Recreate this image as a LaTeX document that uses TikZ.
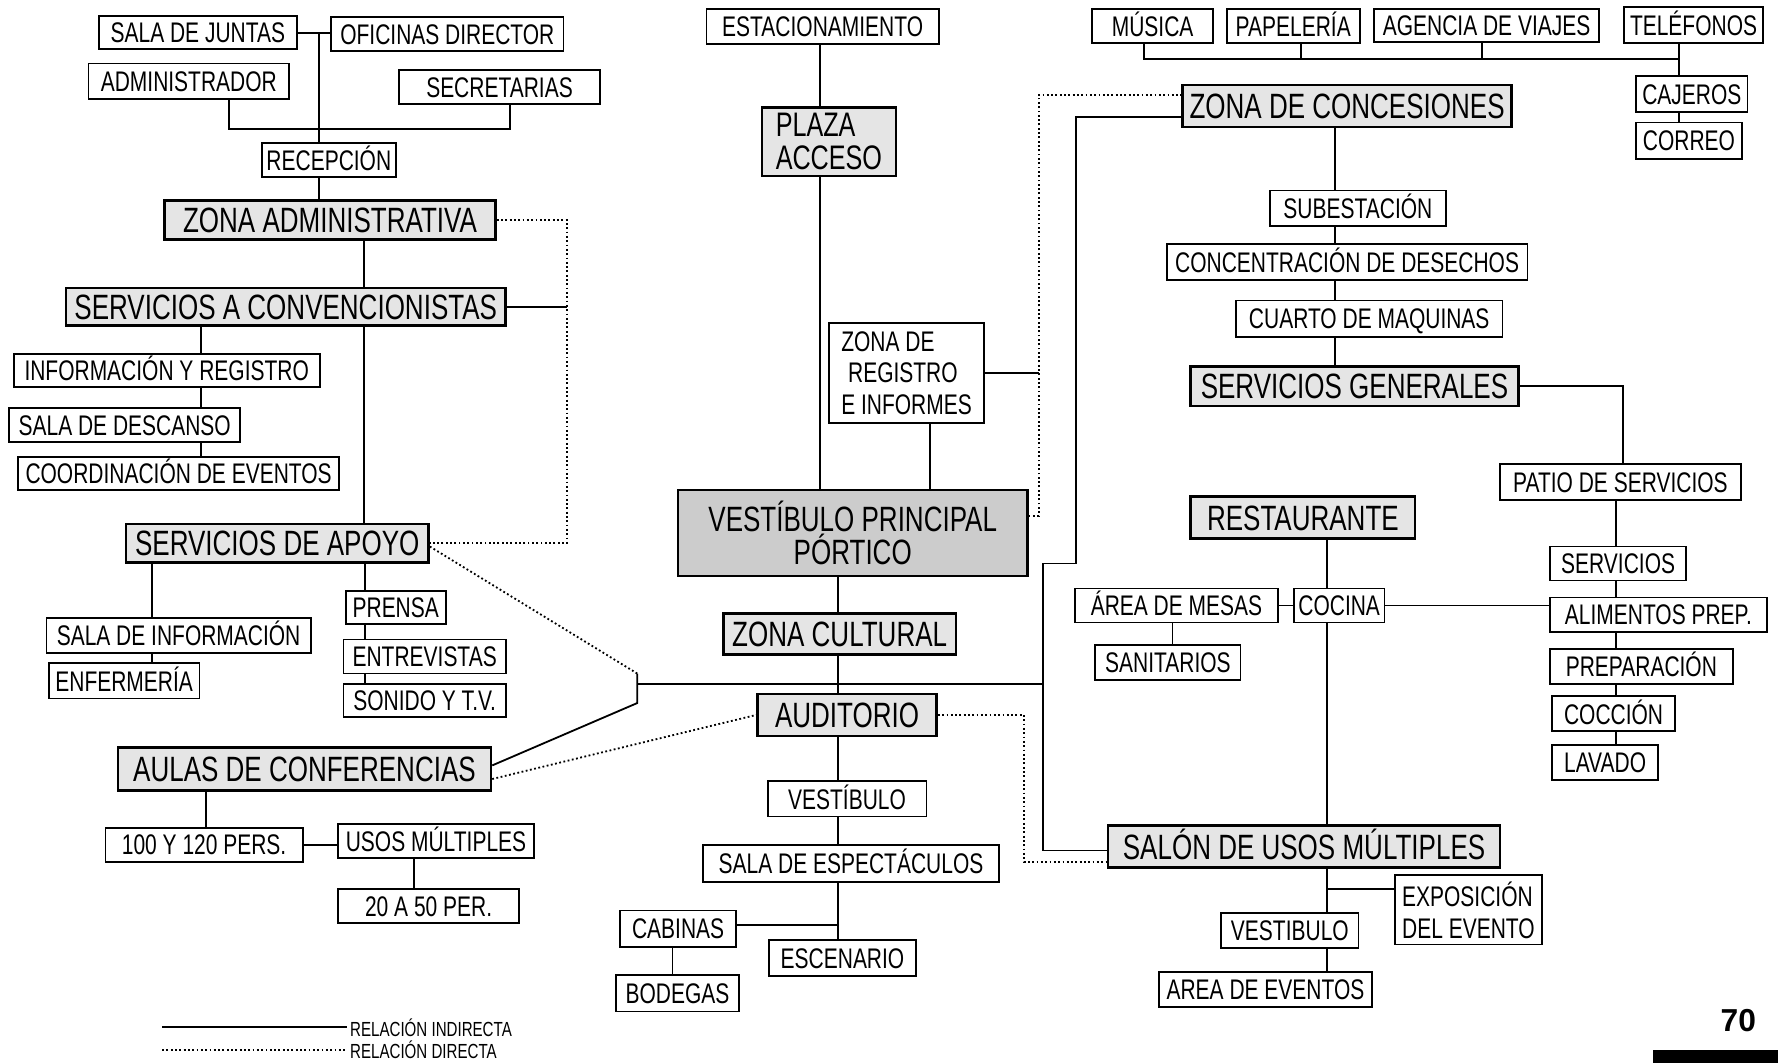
\documentclass[tikz,border=0pt]{standalone}
\usepackage{fontspec}
\setmainfont{Liberation Sans}[FakeStretch=0.74]
\newfontfamily\pagenumfont{Liberation Sans}
\usetikzlibrary{calc}
\newcommand\zbox[7][]{\node[box,#1,minimum width={(#5-#3)*0.5pt},minimum height={(#6-#4)*0.5pt}] (#2) at ({(#3+#5)/2},{(#4+#6)/2}) {#7};}
\begin{document}
\begin{tikzpicture}[x=0.5pt,y=-0.5pt,line width=0.8pt,
  box/.style={draw,line width=0.8pt,inner xsep=2pt,inner ysep=0pt,text height=9pt,text depth=0pt,font=\fontsize{12.5}{14}\selectfont},
  shade/.style={fill=black!10,line width=1.1pt,text height=11.2pt,font=\fontsize{15.5}{13.5}\selectfont},
  heavy/.style={fill=black!20},
  multi/.style={text height={},text depth={}},
  dotline/.style={line width=0.8pt,dash pattern=on 0.8pt off 1.1pt},
  legend/.style={inner sep=1pt,font=\fontsize{9}{9}\selectfont}]
\useasboundingbox (0,0) rectangle (1568,937);
% ---------- left column ----------
\zbox{sala}{87}{14}{262}{43}{SALA DE JUNTAS}
\zbox{ofic}{292}{15}{497}{45}{OFICINAS DIRECTOR}
\zbox{admin}{78}{56}{255}{87}{ADMINISTRADOR}
\zbox{secr}{352}{62}{529}{92}{SECRETARIAS}
\zbox{recep}{231}{126}{349}{156}{RECEPCIÓN}
\zbox[shade]{zadm}{145}{177}{437}{211}{ZONA ADMINISTRATIVA}
\zbox[shade]{sconv}{58}{254}{446}{287}{SERVICIOS A CONVENCIONISTAS}
\zbox{info}{12}{312}{282}{341}{INFORMACIÓN Y REGISTRO}
\zbox{desc}{8}{360}{212}{390}{SALA DE DESCANSO}
\zbox{coord}{16}{403}{299}{432}{COORDINACIÓN DE EVENTOS}
\zbox[shade]{apoyo}{111}{462}{378}{496}{SERVICIOS DE APOYO}
\zbox{sinfo}{41}{545}{274}{576}{SALA DE INFORMACIÓN}
\zbox{enf}{43}{585}{176}{616}{ENFERMERÍA}
\zbox{prensa}{305}{521}{393}{550}{PRENSA}
\zbox{entrev}{303}{564}{446}{594}{ENTREVISTAS}
\zbox{sonido}{303}{603}{446}{632}{SONIDO Y T.V.}
\zbox[shade]{aulas}{104}{659}{433}{697}{AULAS DE CONFERENCIAS}
\zbox{p100}{93}{730}{267}{760}{100 Y 120 PERS.}
\zbox{usos}{298}{727}{471}{757}{USOS MÚLTIPLES}
\zbox{p20}{298}{784}{458}{814}{20 A 50 PER.}
% ---------- centre column ----------
\zbox{est}{623}{8}{828}{39}{ESTACIONAMIENTO}
\zbox[shade,multi,align=left,font=\fontsize{15}{14.5}\selectfont]{plaza}{672}{95}{790}{155}{PLAZA\\ACCESO}
\zbox[multi,align=left]{zreg}{731}{285}{868}{373}{ZONA DE\\\hspace*{3pt}REGISTRO\\E INFORMES}
\zbox[shade,heavy,multi,align=center]{vestp}{598}{432}{906}{508}{VESTÍBULO PRINCIPAL\\PÓRTICO}
\zbox[shade]{zcul}{638}{541}{843}{577}{ZONA CULTURAL}
\zbox[shade]{aud}{668}{612}{826}{649}{AUDITORIO}
\zbox{vest}{677}{689}{817}{720}{VESTÍBULO}
\zbox{sesp}{620}{745}{881}{778}{SALA DE ESPECTÁCULOS}
\zbox{cab}{547}{803}{649}{835}{CABINAS}
\zbox{esc}{678}{829}{808}{861}{ESCENARIO}
\zbox{bod}{543}{860}{652}{892}{BODEGAS}
% ---------- right column ----------
\zbox{mus}{963}{8}{1070}{38}{MÚSICA}
\zbox{pap}{1082}{8}{1199}{38}{PAPELERÍA}
\zbox{age}{1212}{8}{1410}{37}{AGENCIA DE VIAJES}
\zbox{tel}{1432}{6}{1555}{38}{TELÉFONOS}
\zbox{caj}{1443}{67}{1541}{99}{CAJEROS}
\zbox{cor}{1443}{108}{1536}{140}{CORREO}
\zbox[shade]{zcon}{1043}{75}{1333}{112}{ZONA DE CONCESIONES}
\zbox{sub}{1120}{168}{1275}{199}{SUBESTACIÓN}
\zbox{conc}{1029}{215}{1347}{247}{CONCENTRACIÓN DE DESECHOS}
\zbox{cuar}{1090}{265}{1325}{297}{CUARTO DE MAQUINAS}
\zbox[shade]{sgen}{1050}{323}{1339}{358}{SERVICIOS GENERALES}
\zbox{patio}{1323}{409}{1535}{441}{PATIO DE SERVICIOS}
\zbox[shade]{rest}{1050}{438}{1248}{475}{RESTAURANTE}
\zbox{mesas}{948}{519}{1127}{549}{ÁREA DE MESAS}
\zbox{coc}{1141}{519}{1221}{549}{COCINA}
\zbox{sanit}{966}{569}{1094}{600}{SANITARIOS}
\zbox{serv}{1367}{482}{1487}{512}{SERVICIOS}
\zbox{alim}{1367}{527}{1558}{557}{ALIMENTOS PREP.}
\zbox{prep}{1367}{572}{1528}{603}{PREPARACIÓN}
\zbox{cocc}{1369}{614}{1477}{645}{COCCIÓN}
\zbox{lav}{1369}{657}{1462}{688}{LAVADO}
\zbox[shade]{salon}{977}{728}{1323}{765}{SALÓN DE USOS MÚLTIPLES}
\zbox[multi,align=left]{expo}{1230}{772}{1360}{833}{EXPOSICIÓN\\DEL EVENTO}
\zbox{vest2}{1077}{805}{1198}{836}{VESTIBULO}
\zbox{aev}{1022}{857}{1210}{888}{AREA DE EVENTOS}
% ---------- connectors: left ----------
\coordinate (j1) at (281,29);
\draw (sala.east |- j1) -- (ofic.west |- j1);
\draw (j1) -- (j1 |- recep.north);
\coordinate (a1) at (202,114); \coordinate (a2) at (450,114);
\draw (a1 |- admin.south) -- (a1) -- (a2) -- (a2 |- secr.south);
\draw (j1 |- recep.south) -- (j1 |- zadm.north);
\coordinate (xa) at (321,0);
\draw (xa |- zadm.south) -- (xa |- sconv.north);
\coordinate (d1) at (500,0);
\draw[dotline] (zadm.east) -- (zadm.east -| d1) -- (d1 |- apoyo.east) -- (apoyo.east);
\draw (sconv.east) -- (sconv.east -| d1);
\coordinate (xb) at (177,0);
\draw (xb |- sconv.south) -- (xb |- info.north);
\draw (xb |- info.south) -- (xb |- desc.north);
\draw (xb |- desc.south) -- (xb |- coord.north);
\draw (xa |- sconv.south) -- (xa |- apoyo.north);
\coordinate (xc) at (134,0);
\draw (xc |- apoyo.south) -- (xc |- sinfo.north);
\draw (xc |- sinfo.south) -- (xc |- enf.north);
\coordinate (xd) at (322,0);
\draw (xd |- apoyo.south) -- (xd |- prensa.north);
\draw (xd |- prensa.south) -- (xd |- entrev.north);
\draw (xd |- entrev.south) -- (xd |- sonido.north);
\coordinate (jt) at (562,594); \coordinate (jb) at (562,620); \coordinate (jm) at (562,603);
\coordinate (xv) at (920,0);
\draw[dotline] ($(apoyo.east)+(0,3)$) -- (jt);
\draw ($(aulas.east)+(0,-3)$) -- (jb) -- (jt);
\draw (jm) -- (jm -| xv);
\draw[dotline] ($(aulas.east)+(0,9)$) -- (aud.west);
\coordinate (xe) at (182,0);
\draw (xe |- aulas.south) -- (xe |- p100.north);
\draw (p100.east) -- (p100.east -| usos.west);
\coordinate (xf) at (365,0);
\draw (xf |- usos.south) -- (xf |- p20.north);
% ---------- connectors: centre ----------
\coordinate (xg) at (723,0);
\draw (xg |- est.south) -- (xg |- plaza.north);
\draw (xg |- plaza.south) -- (xg |- vestp.north);
\coordinate (xh) at (820,0);
\draw (xh |- zreg.south) -- (xh |- vestp.north);
\coordinate (xi) at (916,0);
\draw (zreg.east) -- (zreg.east -| xi);
\coordinate (vp1) at ($(vestp.east)+(0,-15)$);
\coordinate (zc1) at ($(zcon.west)+(0,-10)$);
\coordinate (zc2) at ($(zcon.west)+(0,10)$);
\draw[dotline] (vp1) -- (vp1 -| xi) -- (xi |- zc1) -- (zc1);
\coordinate (xj) at (949,0); \coordinate (yk) at (0,497);
\coordinate (sal1) at ($(salon.west)+(0,3.5)$);
\coordinate (sal2) at ($(salon.west)+(0,13.5)$);
\draw (zc2) -- (zc2 -| xj) -- (xj |- yk) -- (xv |- yk) -- (xv |- sal1) -- (sal1);
\coordinate (xk) at (903,0);
\draw[dotline] (aud.east) -- (aud.east -| xk) -- (xk |- sal2) -- (sal2);
\coordinate (xl) at (739,0);
\draw (xl |- vestp.south) -- (xl |- zcul.north);
\draw (xl |- zcul.south) -- (xl |- aud.north);
\draw (xl |- aud.south) -- (xl |- vest.north);
\draw (xl |- vest.south) -- (xl |- sesp.north);
\draw (xl |- sesp.south) -- (xl |- esc.north);
\coordinate (br) at (739,816);
\draw (br) -- (br -| cab.east);
\coordinate (xm) at (593,0);
\draw (xm |- cab.south) -- (xm |- bod.north);
% ---------- connectors: right ----------
\coordinate (n1) at (1009,52); \coordinate (n2) at (1147,52);
\coordinate (n3) at (1307,52); \coordinate (n4) at (1481,52);
\draw (n1 |- mus.south) -- (n1) -- (n4);
\draw (n2 |- pap.south) -- (n2);
\draw (n3 |- age.south) -- (n3);
\draw (n4 |- tel.south) -- (n4 |- caj.north);
\draw (n4 |- caj.south) -- (n4 |- cor.north);
\coordinate (xo) at (1177,0);
\draw (xo |- zcon.south) -- (xo |- sub.north);
\draw (xo |- sub.south) -- (xo |- conc.north);
\draw (xo |- conc.south) -- (xo |- cuar.north);
\draw (xo |- cuar.south) -- (xo |- sgen.north);
\coordinate (xp) at (1431,0);
\draw (sgen.east) -- (sgen.east -| xp) -- (xp |- patio.north);
\coordinate (xq) at (1425,0);
\draw (xq |- patio.south) -- (xq |- serv.north);
\draw (xq |- serv.south) -- (xq |- alim.north);
\draw (xq |- alim.south) -- (xq |- prep.north);
\draw (xq |- prep.south) -- (xq |- cocc.north);
\draw (xq |- cocc.south) -- (xq |- lav.north);
\coordinate (xr) at (1170,0);
\draw (xr |- rest.south) -- (xr |- coc.north);
\draw (mesas.east) -- (coc.west);
\draw (coc.east) -- (coc.east -| alim.west);
\coordinate (xs) at (1034,0);
\draw (xs |- mesas.south) -- (xs |- sanit.north);
\draw (xr |- coc.south) -- (xr |- salon.north);
\draw (xr |- salon.south) -- (xr |- vest2.north);
\draw (xr |- vest2.south) -- (xr |- aev.north);
\coordinate (yb) at (1170,784);
\draw (yb) -- (yb -| expo.west);
% ---------- legend & page mark ----------
\node[legend,anchor=west] (lgt1) at (306,906) {RELACIÓN INDIRECTA};
\node[legend,anchor=west] (lgt2) at (306,926) {RELACIÓN DIRECTA};
\coordinate (lg1) at (143,906); \coordinate (lg2) at (143,926);
\draw (lg1) -- (lgt1.west);
\draw[dotline,line width=0.6pt] (lg2) -- (lgt2.west);
\node[font=\pagenumfont\bfseries\fontsize{14}{14}\selectfont,inner sep=0pt] (pnum) at (1533,900) {70};
\fill (1458,926) rectangle (1568,937);
\end{tikzpicture}
\end{document}
